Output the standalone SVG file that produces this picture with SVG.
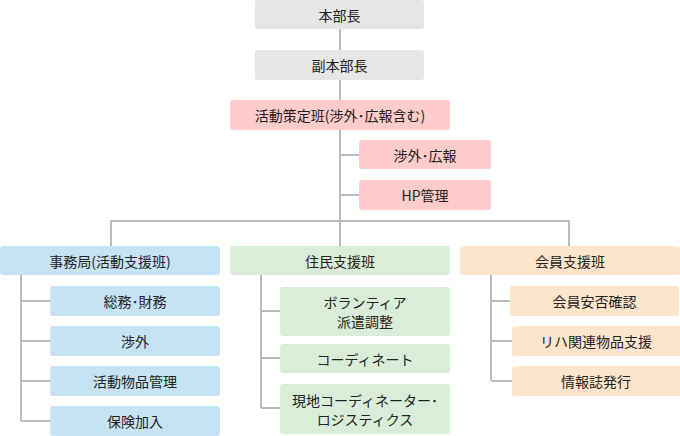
<svg xmlns="http://www.w3.org/2000/svg" width="680" height="436" viewBox="0 0 680 436">
<style>
text{font-family:"Noto Sans CJK JP","Noto Sans CJK SC",sans-serif;font-size:14px;fill:#222;text-anchor:middle;dominant-baseline:central}
.g{fill:#e6e6e6}.p{fill:#ffcccc}.b{fill:#c6e3f3}.gr{fill:#d9edd8}.o{fill:#fde5cc}
.c{stroke:#bbbbbb;stroke-width:2;fill:none}
</style>
<rect width="680" height="436" fill="#fff"/>
<g id="connectors" class="c">
<path d="M340 29V100M340 130V221M340 155H359M340 195H359"/>
<path d="M111 246V221H569V246M340 221V246"/>
<path d="M21 275V421M21 301H50M21 341H50M21 381H50M21 421H50"/>
<path d="M261 275V408M261 311H280M261 358H280M261 408H280"/>
<path d="M491 275V381M491 301H510M491 341H512M491 381H512"/>
</g>
<g id="n1"><rect class="g" x="255" y="0" width="169" height="29" rx="3"/><text x="339.5" y="15">本部長</text></g>
<g id="n2"><rect class="g" x="255" y="50" width="169" height="30" rx="3"/><text x="339.5" y="65">副本部長</text></g>
<g id="n3"><rect class="p" x="230" y="100" width="220" height="30" rx="3"/><text x="340" y="115">活動策定班(渉外･広報含む)</text></g>
<g id="n4"><rect class="p" x="359" y="140" width="132" height="29" rx="3"/><text x="425" y="155">渉外･広報</text></g>
<g id="n5"><rect class="p" x="359" y="180" width="132" height="30" rx="3"/><text x="425" y="195">HP管理</text></g>
<g id="n6"><rect class="b" x="0" y="246" width="220" height="29" rx="3"/><text x="110" y="261">事務局(活動支援班)</text></g>
<g id="n7"><rect class="b" x="50" y="286" width="170" height="30" rx="3"/><text x="135" y="301">総務･財務</text></g>
<g id="n8"><rect class="b" x="50" y="326" width="170" height="30" rx="3"/><text x="135" y="341">渉外</text></g>
<g id="n9"><rect class="b" x="50" y="366" width="170" height="30" rx="3"/><text x="135" y="381">活動物品管理</text></g>
<g id="n10"><rect class="b" x="50" y="406" width="170" height="30" rx="3"/><text x="135" y="421">保険加入</text></g>
<g id="n11"><rect class="gr" x="230" y="246" width="220" height="29" rx="3"/><text x="340" y="261">住民支援班</text></g>
<g id="n12"><rect class="gr" x="280" y="287" width="170" height="49" rx="3"/><text x="365" y="302">ボランティア</text><text x="365" y="321">派遣調整</text></g>
<g id="n13"><rect class="gr" x="280" y="344" width="170" height="29" rx="3"/><text x="365" y="359">コーディネート</text></g>
<g id="n14"><rect class="gr" x="280" y="384" width="170" height="50" rx="3"/><text x="365" y="400">現地コーディネーター･</text><text x="365" y="419">ロジスティクス</text></g>
<g id="n15"><rect class="o" x="460" y="246" width="220" height="29" rx="3"/><text x="570" y="261">会員支援班</text></g>
<g id="n16"><rect class="o" x="510" y="286" width="169" height="30" rx="3"/><text x="594.5" y="301">会員安否確認</text></g>
<g id="n17"><rect class="o" x="512" y="326" width="175" height="30" rx="3"/><text x="596" y="341">リハ関連物品支援</text></g>
<g id="n18"><rect class="o" x="512" y="366" width="175" height="30" rx="3"/><text x="596" y="381">情報誌発行</text></g>
</svg>
